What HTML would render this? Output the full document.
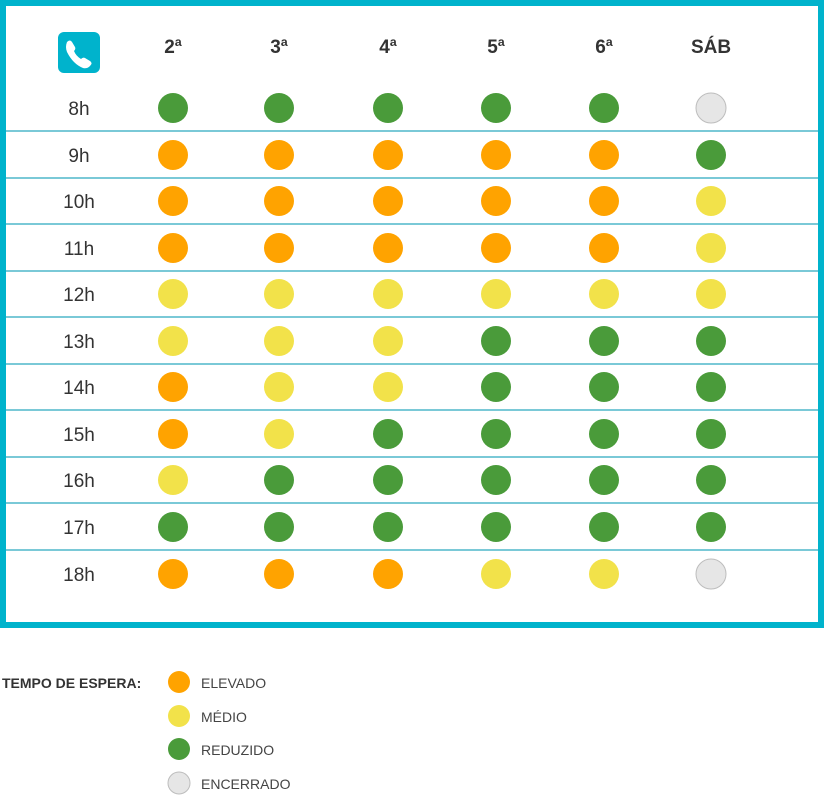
<!DOCTYPE html>
<html><head><meta charset="utf-8"><style>
html,body{margin:0;padding:0;background:#fff;width:824px;height:800px;overflow:hidden}
svg{display:block}
text{font-family:"Liberation Sans",sans-serif}
.o{fill:#ffa300}.y{fill:#f2e24a}.g{fill:#4a9b3a}.c{fill:#e6e6e6;stroke:#bdbdbd;stroke-width:1}
.h{font-size:19px;fill:#333;text-anchor:middle}
.d{font-size:19px;font-weight:bold;fill:#333;text-anchor:middle}
.l{font-size:14px;fill:#444}
</style></head><body>
<svg width="824" height="800" viewBox="0 0 824 800">
<rect x="3" y="3" width="818" height="622" fill="#fff" stroke="#00b3cc" stroke-width="6"/>
<g stroke="#2aa9bf" stroke-width="1.3">
<line x1="6" y1="131" x2="818" y2="131"/><line x1="6" y1="178" x2="818" y2="178"/>
<line x1="6" y1="224" x2="818" y2="224"/><line x1="6" y1="271" x2="818" y2="271"/>
<line x1="6" y1="317" x2="818" y2="317"/><line x1="6" y1="364" x2="818" y2="364"/>
<line x1="6" y1="410" x2="818" y2="410"/><line x1="6" y1="457" x2="818" y2="457"/>
<line x1="6" y1="503" x2="818" y2="503"/><line x1="6" y1="550" x2="818" y2="550"/>
</g>
<rect x="58" y="32" width="42" height="41" rx="6" fill="#00b3cc"/>
<path d="M67 42 q3-3 5 0 l3 5 q1 2-1 4 q2 5 7 8 q2-2 4-1 l5 3 q3 2 0 5 q-3 3-7 2 q-10-4-16-16 q-2-5 0-10z" fill="#fff"/>
<text class="d" x="173" y="53">2ª</text><text class="d" x="279" y="53">3ª</text>
<text class="d" x="388" y="53">4ª</text><text class="d" x="496" y="53">5ª</text>
<text class="d" x="604" y="53">6ª</text><text class="d" x="711" y="53">SÁB</text>
<g class="h">
<text class="h" x="79" y="115">8h</text><text class="h" x="79" y="162">9h</text>
<text class="h" x="79" y="208">10h</text><text class="h" x="79" y="255">11h</text>
<text class="h" x="79" y="301">12h</text><text class="h" x="79" y="348">13h</text>
<text class="h" x="79" y="394">14h</text><text class="h" x="79" y="441">15h</text>
<text class="h" x="79" y="487">16h</text><text class="h" x="79" y="534">17h</text>
<text class="h" x="79" y="581">18h</text>
</g>
<!-- 8h -->
<circle class="g" cx="173" cy="108" r="15"/><circle class="g" cx="279" cy="108" r="15"/><circle class="g" cx="388" cy="108" r="15"/><circle class="g" cx="496" cy="108" r="15"/><circle class="g" cx="604" cy="108" r="15"/><circle class="c" cx="711" cy="108" r="15"/>
<!-- 9h -->
<circle class="o" cx="173" cy="155" r="15"/><circle class="o" cx="279" cy="155" r="15"/><circle class="o" cx="388" cy="155" r="15"/><circle class="o" cx="496" cy="155" r="15"/><circle class="o" cx="604" cy="155" r="15"/><circle class="g" cx="711" cy="155" r="15"/>
<!-- 10h -->
<circle class="o" cx="173" cy="201" r="15"/><circle class="o" cx="279" cy="201" r="15"/><circle class="o" cx="388" cy="201" r="15"/><circle class="o" cx="496" cy="201" r="15"/><circle class="o" cx="604" cy="201" r="15"/><circle class="y" cx="711" cy="201" r="15"/>
<!-- 11h -->
<circle class="o" cx="173" cy="248" r="15"/><circle class="o" cx="279" cy="248" r="15"/><circle class="o" cx="388" cy="248" r="15"/><circle class="o" cx="496" cy="248" r="15"/><circle class="o" cx="604" cy="248" r="15"/><circle class="y" cx="711" cy="248" r="15"/>
<!-- 12h -->
<circle class="y" cx="173" cy="294" r="15"/><circle class="y" cx="279" cy="294" r="15"/><circle class="y" cx="388" cy="294" r="15"/><circle class="y" cx="496" cy="294" r="15"/><circle class="y" cx="604" cy="294" r="15"/><circle class="y" cx="711" cy="294" r="15"/>
<!-- 13h -->
<circle class="y" cx="173" cy="341" r="15"/><circle class="y" cx="279" cy="341" r="15"/><circle class="y" cx="388" cy="341" r="15"/><circle class="g" cx="496" cy="341" r="15"/><circle class="g" cx="604" cy="341" r="15"/><circle class="g" cx="711" cy="341" r="15"/>
<!-- 14h -->
<circle class="o" cx="173" cy="387" r="15"/><circle class="y" cx="279" cy="387" r="15"/><circle class="y" cx="388" cy="387" r="15"/><circle class="g" cx="496" cy="387" r="15"/><circle class="g" cx="604" cy="387" r="15"/><circle class="g" cx="711" cy="387" r="15"/>
<!-- 15h -->
<circle class="o" cx="173" cy="434" r="15"/><circle class="y" cx="279" cy="434" r="15"/><circle class="g" cx="388" cy="434" r="15"/><circle class="g" cx="496" cy="434" r="15"/><circle class="g" cx="604" cy="434" r="15"/><circle class="g" cx="711" cy="434" r="15"/>
<!-- 16h -->
<circle class="y" cx="173" cy="480" r="15"/><circle class="g" cx="279" cy="480" r="15"/><circle class="g" cx="388" cy="480" r="15"/><circle class="g" cx="496" cy="480" r="15"/><circle class="g" cx="604" cy="480" r="15"/><circle class="g" cx="711" cy="480" r="15"/>
<!-- 17h -->
<circle class="g" cx="173" cy="527" r="15"/><circle class="g" cx="279" cy="527" r="15"/><circle class="g" cx="388" cy="527" r="15"/><circle class="g" cx="496" cy="527" r="15"/><circle class="g" cx="604" cy="527" r="15"/><circle class="g" cx="711" cy="527" r="15"/>
<!-- 18h -->
<circle class="o" cx="173" cy="574" r="15"/><circle class="o" cx="279" cy="574" r="15"/><circle class="o" cx="388" cy="574" r="15"/><circle class="y" cx="496" cy="574" r="15"/><circle class="y" cx="604" cy="574" r="15"/><circle class="c" cx="711" cy="574" r="15"/>
<!-- legend -->
<text x="2" y="688" style="font-size:14px;font-weight:bold;fill:#333">TEMPO DE ESPERA:</text>
<circle class="o" cx="179" cy="682" r="11"/><text class="l" x="201" y="688">ELEVADO</text>
<circle class="y" cx="179" cy="716" r="11"/><text class="l" x="201" y="722">MÉDIO</text>
<circle class="g" cx="179" cy="749" r="11"/><text class="l" x="201" y="755">REDUZIDO</text>
<circle class="c" cx="179" cy="783" r="11"/><text class="l" x="201" y="789">ENCERRADO</text>
</svg>
</body></html>
